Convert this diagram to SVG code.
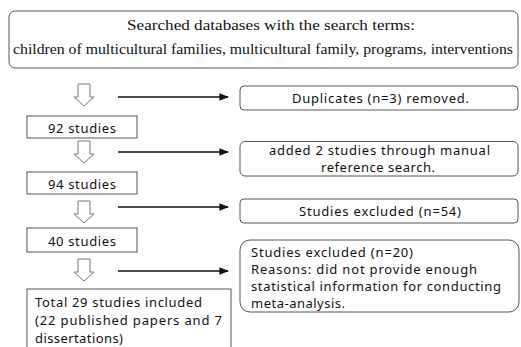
<svg xmlns="http://www.w3.org/2000/svg" width="521" height="347" viewBox="0 0 521 347">
<defs>
<style>
.box{fill:#fff;stroke:#555;stroke-width:1}
.t{font-family:"Noto Sans","Open Sans",sans-serif;font-size:13px;fill:#111}
.s{font-family:"Liberation Serif","DejaVu Serif",serif;font-size:14px;fill:#111}
.ha{fill:#fff;stroke:#777;stroke-width:1}
.con{stroke:#111;stroke-width:1.6;fill:none}
</style>
<marker id="ah" viewBox="0 0 10 10" refX="9" refY="5" markerWidth="6" markerHeight="6" markerUnits="strokeWidth" orient="auto">
<path d="M0,1 L10,5 L0,9 z" fill="#111"/>
</marker>
<path id="hollow" d="M-6,0 H6 V13 H10 L0,22 L-10,13 H-6 Z"/>
</defs>
<rect width="521" height="347" fill="#fff"/>
<g id="search">
<rect class="box" x="9" y="11" width="509" height="57" rx="6"/>
<text class="s" x="271" y="30" text-anchor="middle" textLength="288" lengthAdjust="spacingAndGlyphs">Searched databases with the search terms:</text>
<text class="s" x="263" y="54" text-anchor="middle" textLength="500" lengthAdjust="spacingAndGlyphs">children of multicultural families, multicultural family, programs, interventions</text>
</g>
<g id="flow-arrows">
<use href="#hollow" class="ha" x="84" y="84"/>
<use href="#hollow" class="ha" x="84" y="141"/>
<use href="#hollow" class="ha" x="84" y="201"/>
<use href="#hollow" class="ha" x="84" y="259"/>
</g>
<g id="n92">
<rect class="box" x="27" y="116" width="110" height="22"/>
<text class="t" x="48" y="132.5" textLength="68">92 studies</text>
</g>
<g id="n94">
<rect class="box" x="27" y="172" width="110" height="22"/>
<text class="t" x="48" y="188.5" textLength="68">94 studies</text>
</g>
<g id="n40">
<rect class="box" x="27" y="228" width="110" height="24"/>
<text class="t" x="48" y="245.5" textLength="68">40 studies</text>
</g>
<g id="total">
<rect class="box" x="27" y="289" width="204" height="70"/>
<text class="t" x="35" y="307" textLength="167">Total 29 studies included</text>
<text class="t" x="35" y="325" textLength="187">(22 published papers and 7</text>
<text class="t" x="35" y="343" textLength="88">dissertations)</text>
</g>
<g id="dup">
<rect class="box" x="240" y="86" width="278" height="24" rx="4"/>
<text class="t" x="292" y="102.5" textLength="177">Duplicates (n=3) removed.</text>
</g>
<g id="added">
<rect class="box" x="240" y="141.5" width="278" height="34.5" rx="5"/>
<text class="t" x="269" y="155" textLength="221">added 2 studies through manual</text>
<text class="t" x="321" y="172" textLength="114">reference search.</text>
</g>
<g id="excl54">
<rect class="box" x="240" y="199" width="278" height="24" rx="4"/>
<text class="t" x="299" y="215.5" textLength="162">Studies excluded (n=54)</text>
</g>
<g id="excl20">
<rect class="box" x="240" y="240" width="279" height="72" rx="10"/>
<text class="t" x="251" y="256.5" textLength="162">Studies excluded (n=20)</text>
<text class="t" x="251" y="273.5" textLength="226">Reasons: did not provide enough</text>
<text class="t" x="251" y="290.5" textLength="250">statistical information for conducting</text>
<text class="t" x="251" y="307.5" textLength="94">meta-analysis.</text>
</g>
<g id="connectors">
<line class="con" x1="118" y1="97" x2="228" y2="97" marker-end="url(#ah)"/>
<line class="con" x1="118" y1="152" x2="228" y2="152" marker-end="url(#ah)"/>
<line class="con" x1="118" y1="207" x2="228" y2="207" marker-end="url(#ah)"/>
<line class="con" x1="118" y1="271" x2="228" y2="271" marker-end="url(#ah)"/>
</g>
</svg>
